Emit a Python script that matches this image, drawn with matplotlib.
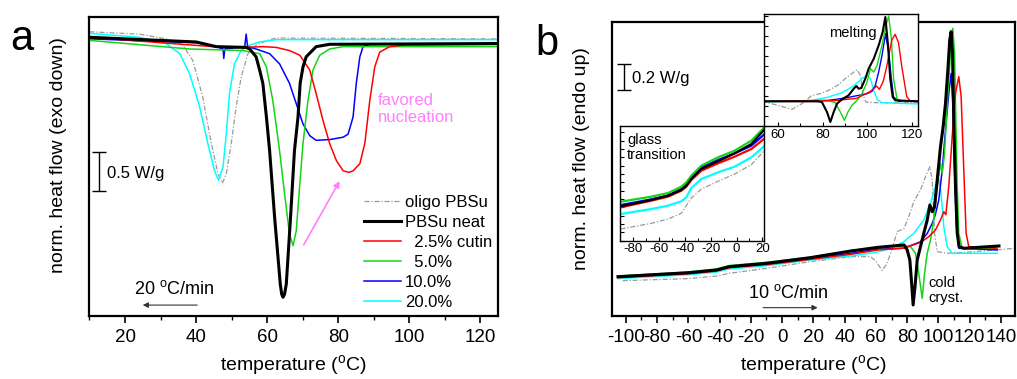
import numpy as np
import matplotlib
matplotlib.use('Agg')
import matplotlib.pyplot as plt
from matplotlib.ticker import MultipleLocator

plt.rcParams['font.family'] = ['Liberation Sans', 'DejaVu Sans']
plt.rcParams['axes.unicode_minus'] = False
plt.rcParams['mathtext.fontset'] = 'custom'
plt.rcParams['mathtext.rm'] = 'Liberation Sans'

# ---- data: (temperature degC, heat flow W/g, arbitrary offset)
labels = ['oligo PBSu', 'PBSu neat', '  2.5% cutin', '  5.0%', '10.0%', '20.0%']
colors = ['#9a9a9a', 'black', 'red', '#16d416', 'blue', 'cyan']

# panel a: cooling 20 C/min
a_oligo = [(10, -0.19), (24.1, -0.22), (31.6, -0.28), (36.3, -0.36), (39.1, -0.56), (41.9, -1.03),
           (44.3, -1.62), (46.2, -2.01), (47.4, -2.13), (48.5, -2.01), (49.9, -1.62), (51.3, -1.15),
           (52.7, -0.77), (54.6, -0.47), (56.9, -0.36), (60.7, -0.29), (62.6, -0.27), (125, -0.28)]
a_neat = [(10, -0.26), (40, -0.32), (45.7, -0.38), (54.1, -0.39), (55.1, -0.41), (56.9, -0.51),
          (57.9, -0.68), (58.8, -0.85), (59.8, -1.28), (60.7, -1.71), (62.1, -2.56), (63.7, -3.42),
          (64.1, -3.55), (64.5, -3.59), (64.9, -3.55), (65.4, -3.42), (66.6, -2.56), (67.7, -1.71),
          (68.7, -1.28), (69.3, -0.85), (70.1, -0.64), (71.0, -0.51), (73.8, -0.38), (77.6, -0.35),
          (125, -0.34)]
a_c25 = [(10, -0.26), (44.7, -0.38), (53.2, -0.39), (58.8, -0.38), (62.6, -0.39), (66.3, -0.43),
         (69.2, -0.49), (72.0, -0.68), (73.8, -0.98), (75.7, -1.32), (77.6, -1.62), (79.5, -1.84),
         (81.4, -1.97), (83.0, -1.99), (84.2, -1.97), (86.1, -1.88), (87.5, -1.62), (88.9, -1.07),
         (90.3, -0.64), (91.7, -0.45), (94.5, -0.38), (98.3, -0.36), (125, -0.35)]
a_c50 = [(10, -0.30), (38.2, -0.41), (53.2, -0.43), (57.9, -0.47), (59.8, -0.64), (61.6, -1.07),
         (63.5, -1.71), (64.9, -2.26), (66.3, -2.78), (67.3, -2.93), (68.2, -2.74), (69.2, -2.14),
         (70.1, -1.62), (71.5, -1.07), (72.9, -0.68), (74.8, -0.49), (77.6, -0.41), (81.4, -0.38),
         (125, -0.38)]
a_c100 = [(10, -0.28), (40, -0.33), (45.7, -0.38), (47.6, -0.41), (47.8, -0.53), (48.1, -0.41),
          (53.7, -0.38), (54.1, -0.22), (54.5, -0.38), (56.9, -0.41), (60.7, -0.47), (63.5, -0.60),
          (66.3, -0.85), (68.2, -1.11), (70.1, -1.37), (72.0, -1.52), (73.8, -1.58), (77.6, -1.57),
          (81.4, -1.54), (82.8, -1.50), (84.2, -1.28), (85.1, -0.85), (86.1, -0.51), (87.0, -0.38),
          (88.9, -0.35), (125, -0.35)]
a_c200 = [(10, -0.21), (24.1, -0.26), (31.6, -0.34), (35.4, -0.47), (38.2, -0.73), (41.0, -1.15),
          (43.3, -1.62), (45.2, -1.97), (46.3, -2.09), (47.6, -1.92), (48.5, -1.50), (49.4, -0.98),
          (50.8, -0.60), (52.7, -0.43), (55.1, -0.36), (57.9, -0.32), (62.6, -0.29), (125, -0.29)]

# panel b: heating 10 C/min
b_oligo = [(-102, -2.013), (-60, -1.997), (-42, -1.977), (-34, -1.956), (-10, -1.917), (18, -1.865),
           (44, -1.826), (56.5, -1.826), (60, -1.86), (64, -1.935), (67, -1.88), (70, -1.78),
           (73.6, -1.63), (77.8, -1.61), (81, -1.515), (84.2, -1.398), (88.5, -1.307), (91.7, -1.204),
           (94.5, -1.126), (96, -1.23), (97.5, -1.645), (99.2, -1.787), (105.6, -1.80), (120, -1.79),
           (149, -1.761)]
b_neat = [(-105, -1.982), (-60, -1.951), (-42, -1.930), (-34, -1.904), (-10, -1.878), (18, -1.834),
          (44, -1.782), (61, -1.754), (78, -1.735), (80, -1.774), (81.7, -1.852), (83, -2.06),
          (83.8, -2.202), (85, -2.06), (86.4, -1.852), (88.5, -1.748), (90.6, -1.645), (92.8, -1.541),
          (94.5, -1.424), (96, -1.476), (97.5, -1.437), (99.2, -1.23), (101.3, -0.97), (103, -0.815),
          (104.5, -0.633), (106, -0.374), (107.2, -0.14), (108.1, -0.075), (109, -0.244),
          (109.8, -0.763), (110.9, -1.28), (112, -1.645), (113.2, -1.748), (116.2, -1.761),
          (138.7, -1.743)]
b_c25 = [(-105, -1.990), (-60, -1.959), (-42, -1.938), (-34, -1.912), (-10, -1.888), (18, -1.847),
         (44, -1.808), (61, -1.774), (78, -1.76), (88.5, -1.715), (93.8, -1.671), (98, -1.62),
         (101.3, -1.541), (103.4, -1.476), (104.7, -1.50), (106.6, -1.28), (108.8, -0.89),
         (110.9, -0.555), (113, -0.425), (114.5, -0.58), (116.2, -1.152), (117.7, -1.645),
         (119.4, -1.748), (137, -1.76)]
b_c50 = [(-105, -1.977), (-60, -1.946), (-42, -1.922), (-34, -1.896), (-10, -1.870), (18, -1.831),
         (44, -1.780), (61, -1.754), (78, -1.74), (82.1, -1.748), (85.3, -1.80), (87.4, -1.956),
         (89.6, -2.15), (91.1, -1.956), (92.8, -1.80), (94.9, -1.696), (97.0, -1.541), (99.2, -1.28),
         (101.3, -1.10), (102.4, -1.178), (103.9, -1.022), (105.6, -0.633), (107.7, -0.244),
         (109.2, -0.049), (110.3, -0.244), (111.1, -0.763), (112, -1.28), (113, -1.645),
         (115.2, -1.761), (137.6, -1.761)]
b_c100 = [(-105, -1.984), (-60, -1.956), (-42, -1.933), (-34, -1.909), (-10, -1.883), (18, -1.842),
          (44, -1.80), (61, -1.769), (78, -1.76), (88.5, -1.71), (92.8, -1.645), (96, -1.567),
          (98, -1.50), (100.2, -1.385), (102.4, -1.152), (104.5, -0.84), (106.6, -0.555),
          (108.1, -0.40), (109.2, -0.633), (110.3, -1.152), (111.5, -1.593), (113, -1.761),
          (137.6, -1.774)]
b_c200 = [(-105, -1.997), (-60, -1.966), (-42, -1.946), (-34, -1.922), (-10, -1.896), (18, -1.852),
          (44, -1.821), (61, -1.790), (70, -1.76), (77.8, -1.71), (84.2, -1.645), (90.6, -1.541),
          (94.9, -1.41), (98, -1.28), (100.2, -1.217), (101.7, -1.333), (103.4, -1.593),
          (105.6, -1.748), (108.8, -1.80), (137.6, -1.80)]

# inset: melting region (magnified, arbitrary offset)
m_oligo = [(52.7, 0.074), (58.7, 0.064), (66.2, 0.050), (70.6, 0.067), (75.1, 0.092), (78.9, 0.097),
           (82.6, 0.107), (87.1, 0.124), (90.9, 0.147), (95.4, 0.169), (96.9, 0.152), (98.1, 0.092),
           (99.4, 0.072), (103.6, 0.070), (123.1, 0.070)]
m_neat = [(52.7, 0.074), (77.4, 0.074), (79.6, 0.072), (81.9, 0.042), (83.4, 0.012), (84.9, 0.042),
          (86.4, 0.067), (88.6, 0.080), (91.6, 0.092), (93.9, 0.112), (95.1, 0.120), (96.1, 0.112),
          (97.3, 0.114), (99.1, 0.142), (100.6, 0.172), (102.9, 0.202), (105.1, 0.242), (106.9, 0.282),
          (108.1, 0.327), (109.3, 0.242), (110.3, 0.142), (111.4, 0.087), (112.6, 0.077), (123.1, 0.074)]
m_c25 = [(52.7, 0.074), (85, 0.076), (95.2, 0.083), (101.2, 0.103), (104.2, 0.120), (105.4, 0.110),
         (107.2, 0.135), (108.7, 0.178), (111.0, 0.258), (112.5, 0.275), (114, 0.250), (115.5, 0.178),
         (117.7, 0.088), (119.2, 0.076), (123.1, 0.074)]
m_c50 = [(52.7, 0.074), (82.6, 0.076), (85.6, 0.070), (87.9, 0.042), (89.7, 0.017), (91.3, 0.042),
         (93.1, 0.062), (95.4, 0.077), (97.6, 0.097), (99.9, 0.132), (101.4, 0.172), (102.9, 0.162),
         (104.4, 0.182), (106.6, 0.242), (108.4, 0.302), (109.6, 0.330), (110.8, 0.262), (111.8, 0.142),
         (113.3, 0.082), (115.6, 0.074), (123.1, 0.074)]
m_c100 = [(52.7, 0.074), (82.6, 0.077), (90.1, 0.084), (96.1, 0.092), (99.9, 0.097), (102.1, 0.104),
          (103.6, 0.122), (105.1, 0.162), (106.6, 0.212), (108.2, 0.277), (109.6, 0.222), (110.8, 0.142),
          (111.8, 0.087), (114.1, 0.074), (123.1, 0.074)]
m_c200 = [(52.7, 0.072), (75.1, 0.077), (82.6, 0.087), (88.6, 0.100), (93.1, 0.117), (97.6, 0.142),
          (99.9, 0.152), (101.4, 0.142), (102.9, 0.107), (104.4, 0.080), (106.6, 0.070), (123.1, 0.066)]

# inset: glass transition region (magnified, arbitrary offset)
g_temp = [-89.8, -66.1, -53.1, -42.8, -38.9, -35.05, -27.3, -14.4, -1.5, 11.5, 21.5]
g_oligo = [0.035, 0.052, 0.065, 0.082, 0.105, 0.128, 0.155, 0.178, 0.200, 0.228, 0.270]
g_neat = [0.103, 0.122, 0.135, 0.152, 0.165, 0.185, 0.215, 0.238, 0.262, 0.290, 0.333]
g_c25 = [0.100, 0.120, 0.132, 0.150, 0.162, 0.182, 0.210, 0.232, 0.252, 0.275, 0.306]
g_c50 = [0.117, 0.132, 0.143, 0.162, 0.175, 0.195, 0.225, 0.250, 0.270, 0.300, 0.340]
g_c100 = [0.107, 0.124, 0.136, 0.155, 0.168, 0.190, 0.220, 0.242, 0.262, 0.285, 0.319]
g_c200 = [0.080, 0.095, 0.105, 0.118, 0.130, 0.158, 0.185, 0.205, 0.222, 0.250, 0.284]

pink = '#ff80ff'
fig = plt.figure(figsize=(10.17, 3.79), dpi=100)
ax_a = fig.add_axes([0.088, 0.1662, 0.4017, 0.789])
ax_b = fig.add_axes([0.6015, 0.1662, 0.3966, 0.7757])
ax_m = fig.add_axes([0.7512, 0.6675, 0.1511, 0.2955])
ax_g = fig.add_axes([0.6096, 0.3649, 0.1419, 0.3026])


def style(i, big):
    if i == 0:
        return dict(color=colors[0], lw=0.9, dashes=(4, 1.5, 1, 1.5))
    if i == 1:
        return dict(color=colors[1], lw=2.2 if big else 1.5)
    return dict(color=colors[i], lw=1.1 if big else 1.0)


draw_order = [0, 5, 4, 3, 2, 1]

a_sets = [a_oligo, a_neat, a_c25, a_c50, a_c100, a_c200]
handles = {}
for i in draw_order:
    d = np.array(a_sets[i])
    handles[i], = ax_a.plot(d[:, 0], d[:, 1], label=labels[i], **style(i, True))
ax_a.set_xlim(10, 125)
ax_a.set_ylim(-3.83, 0)
ax_a.set_yticks([])
ax_a.xaxis.set_major_locator(MultipleLocator(20))
ax_a.xaxis.set_minor_locator(MultipleLocator(10))
ax_a.set_xlabel('temperature ($^\\mathrm{o}$C)', fontsize=14)
ax_a.set_ylabel('norm. heat flow (exo down)', fontsize=14)
ax_a.xaxis.set_label_coords(0.5, -0.125)
ax_a.yaxis.set_label_coords(-0.056, 0.538)
ax_a.legend([handles[i] for i in range(6)], labels, loc='upper left', bbox_to_anchor=(0.672, 0.405),
            frameon=False, borderpad=0, borderaxespad=0, handlelength=2.2, handletextpad=0.25,
            labelspacing=0.3, fontsize=12)
ax_a.text(91.2, -1.175, 'favored\nnucleation', color=pink, fontsize=12, va='center', ha='left')
ax_a.annotate('', xy=(80.8, -2.07), xytext=(69.9, -2.95),
              arrowprops=dict(arrowstyle='-|>', color=pink, lw=1.2, mutation_scale=9))
ax_a.annotate('', xy=(24.2, -3.69), xytext=(41.1, -3.69),
              arrowprops=dict(arrowstyle='-|>', color='#333333', lw=0.8, mutation_scale=8))
ax_a.text(33.9, -3.49, '20 $^\\mathrm{o}$C/min', ha='center', va='center', fontsize=13)
ax_a.errorbar(12.76, -1.98, yerr=0.25, color='k', capsize=5, lw=1, capthick=1)
ax_a.text(14.85, -2.0, '0.5 W/g', fontsize=12, va='center', ha='left')

b_sets = [b_oligo, b_neat, b_c25, b_c50, b_c100, b_c200]
for i in draw_order:
    d = np.array(b_sets[i])
    ax_b.plot(d[:, 0], d[:, 1], **style(i, True))
ax_b.set_xlim(-109, 149)
ax_b.set_ylim(-2.288, 0)
ax_b.set_yticks([])
ax_b.xaxis.set_major_locator(MultipleLocator(20))
ax_b.xaxis.set_minor_locator(MultipleLocator(10))
ax_b.set_xlabel('temperature ($^\\mathrm{o}$C)', fontsize=14)
ax_b.set_ylabel('norm. heat flow (endo up)', fontsize=14)
ax_b.xaxis.set_label_coords(0.5, -0.128)
ax_b.yaxis.set_label_coords(-0.054, 0.537)
ax_b.errorbar(-101.4, -0.429, yerr=0.1, color='k', capsize=5, lw=1, capthick=1)
ax_b.text(-96, -0.438, '0.2 W/g', fontsize=12, va='center', ha='left')
ax_b.text(4.0, -2.109, '10 $^\\mathrm{o}$C/min', ha='center', va='center', fontsize=13)
ax_b.annotate('', xy=(24.5, -2.223), xytext=(-13.9, -2.223),
              arrowprops=dict(arrowstyle='-|>', color='#333333', lw=0.8, mutation_scale=8))
ax_b.text(93.6, -2.086, 'cold\ncryst.', fontsize=10.5, va='center', ha='left', linespacing=1.1)

m_sets = [m_oligo, m_neat, m_c25, m_c50, m_c100, m_c200]
for i in draw_order:
    d = np.array(m_sets[i])
    ax_m.plot(d[:, 0], d[:, 1], **style(i, False))
ax_m.set_xlim(53.6, 122.6)
ax_m.set_ylim(0, 0.336)
ax_m.xaxis.set_major_locator(MultipleLocator(20))
ax_m.xaxis.set_minor_locator(MultipleLocator(10))
ax_m.yaxis.set_major_locator(MultipleLocator(0.03))
ax_m.tick_params(axis='y', labelleft=False)
ax_m.text(82.9, 0.278, 'melting', fontsize=10.5, va='center', ha='left')

g_sets = [g_oligo, g_neat, g_c25, g_c50, g_c100, g_c200]
for i in draw_order:
    st = style(i, False)
    if i > 0:
        st['lw'] = 1.6
    ax_g.plot(g_temp, g_sets[i], **st)
ax_g.set_xlim(-90.3, 21.5)
ax_g.set_ylim(0, 0.344)
ax_g.xaxis.set_major_locator(MultipleLocator(20))
ax_g.xaxis.set_minor_locator(MultipleLocator(10))
ax_g.yaxis.set_major_locator(MultipleLocator(0.025))
ax_g.tick_params(axis='y', labelleft=False)
ax_g.text(-84.65, 0.28, 'glass\ntransition', fontsize=10.5, va='center', ha='left', linespacing=1.1)

for ax in (ax_a, ax_b):
    for s in ax.spines.values():
        s.set_linewidth(1.6)
    ax.tick_params(axis='x', which='major', direction='out', length=5, width=1.2, labelsize=13.5, pad=4)
    ax.tick_params(axis='x', which='minor', direction='out', length=3, width=1.0)
for ax in (ax_m, ax_g):
    ax.set_facecolor('white')
    for s in ax.spines.values():
        s.set_linewidth(1.0)
    ax.tick_params(which='major', direction='in', length=3, width=0.8, labelsize=9.5, pad=2)
    ax.tick_params(which='minor', direction='in', length=2, width=0.7)

fig.text(10 / 1017, 1 - 50 / 379, 'a', fontsize=30, va='baseline', ha='left')
fig.text(535 / 1017, 1 - 55 / 379, 'b', fontsize=30, va='baseline', ha='left')

fig.savefig('out.png', dpi=100)
